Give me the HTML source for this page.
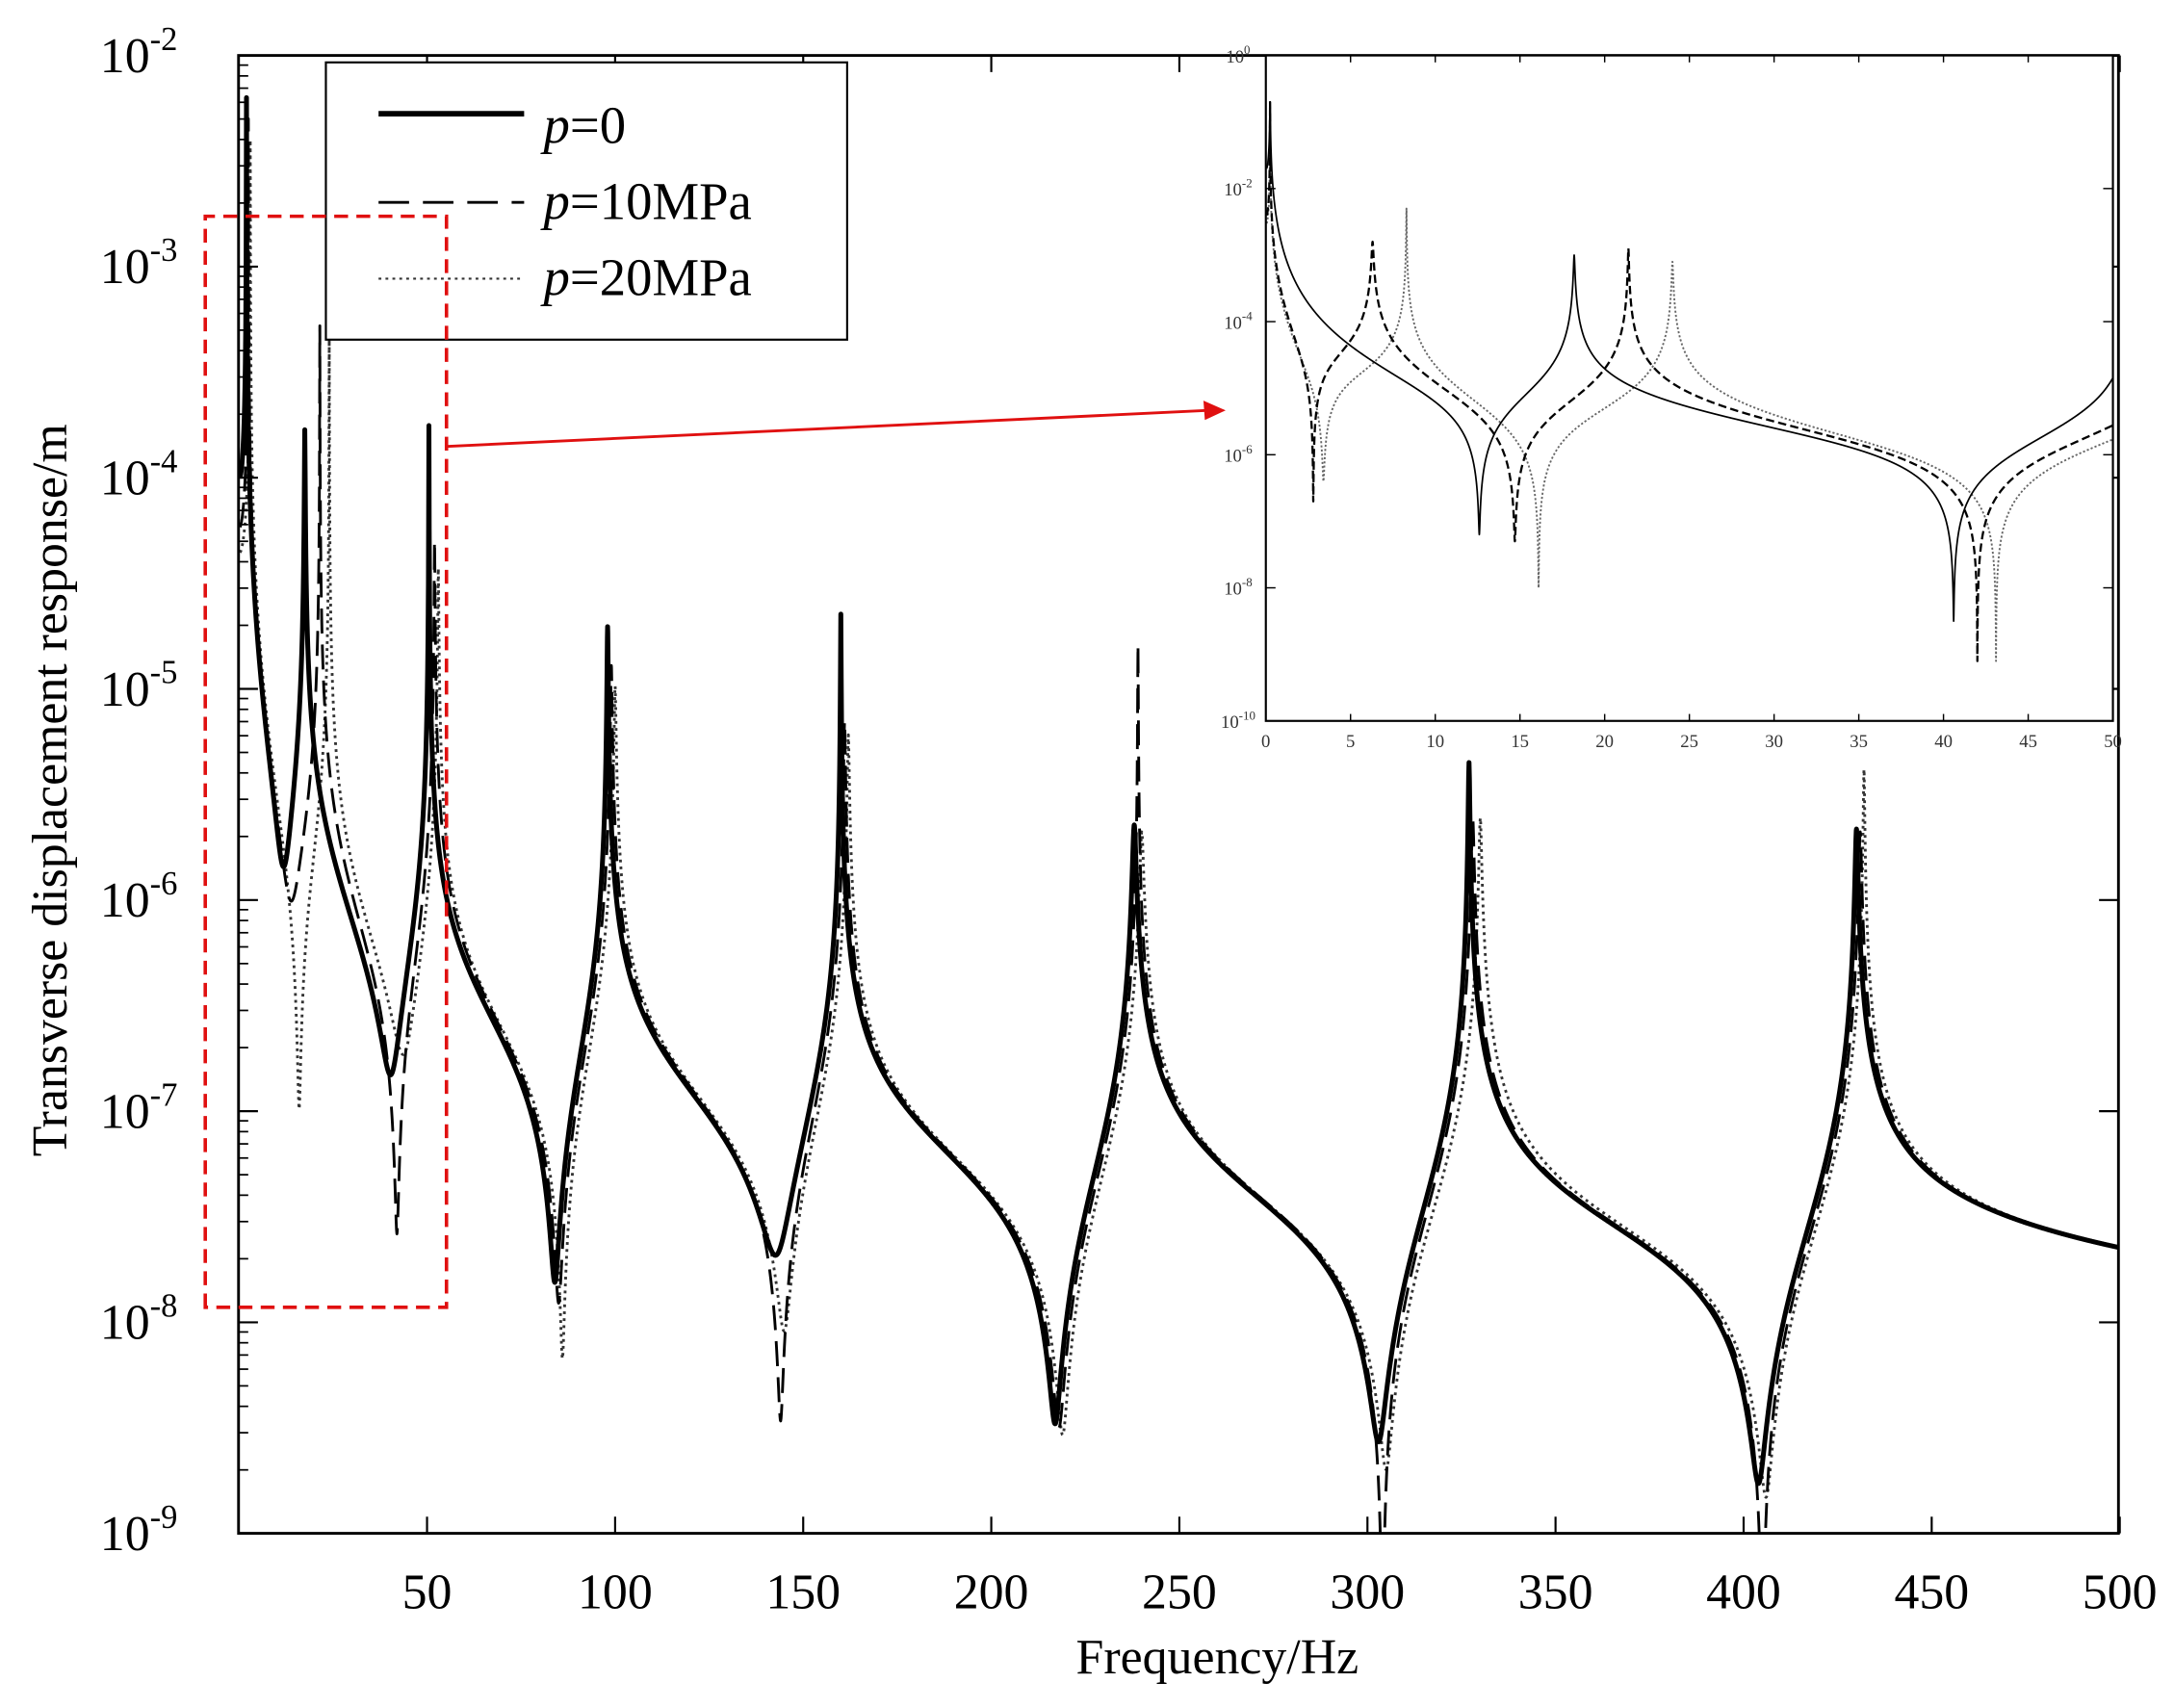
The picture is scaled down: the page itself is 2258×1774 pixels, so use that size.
<!DOCTYPE html>
<html><head><meta charset="utf-8">
<style>html,body{margin:0;padding:0;background:#fff}svg{display:block}</style>
</head><body>
<svg id="s" width="2258" height="1774" viewBox="0 0 1568 1232" xmlns="http://www.w3.org/2000/svg" font-family="'Liberation Serif',serif">
<defs>
<clipPath id="cm"><rect x="172" y="40" width="1356" height="1066"/></clipPath>
<clipPath id="ci"><rect x="913" y="40" width="611" height="480"/></clipPath>
</defs>
<rect width="1568" height="1232" fill="#fff"/>
<g id="main" clip-path="url(#cm)"></g>
<rect x="172" y="40" width="1356" height="1066" fill="none" stroke="#000" stroke-width="2"/>
<g id="axes"></g>
<!-- legend -->
<rect x="235" y="45" width="376" height="200" fill="#fff" stroke="#000" stroke-width="1.5"/>
<line x1="273" y1="82" x2="378" y2="82" stroke="#000" stroke-width="4"/>
<line x1="273" y1="146" x2="378" y2="146" stroke="#000" stroke-width="2" stroke-dasharray="22,10"/>
<line x1="273" y1="201" x2="378" y2="201" stroke="#333" stroke-width="1.5" stroke-dasharray="2,3"/>
<text x="392" y="103" font-size="38"><tspan font-style="italic">p</tspan>=0</text>
<text x="392" y="158" font-size="38"><tspan font-style="italic">p</tspan>=10MPa</text>
<text x="392" y="213" font-size="38"><tspan font-style="italic">p</tspan>=20MPa</text>
<!-- red box + arrow -->
<path d="M148 943 L148 156 L322 156 L322 943 Z" fill="none" stroke="#e01010" stroke-width="2.5" stroke-dasharray="10,6"/>
<line x1="322" y1="322" x2="872" y2="296" stroke="#e01010" stroke-width="2"/>
<polygon points="884,296 868,289 869,303" fill="#e01010"/>
<!-- inset -->
<rect x="913" y="40" width="611" height="480" fill="#fff"/>
<g id="inset" clip-path="url(#ci)"></g>
<rect x="913" y="40" width="611" height="480" fill="none" stroke="#000" stroke-width="1.5"/>
<g id="iaxes"></g>
<text x="878" y="1207" font-size="36" text-anchor="middle">Frequency/Hz</text>
<text transform="translate(48,570) rotate(-90)" font-size="36" text-anchor="middle">Transverse displacement response/m</text>
</svg>
<script>
const NS="http://www.w3.org/2000/svg";
function el(p,t,a,txt){const e=document.createElementNS(NS,t);for(const k in a)e.setAttribute(k,a[k]);if(txt!==undefined)e.textContent=txt;p.appendChild(e);return e;}
function build(poles,zeros,pt,zt,ref){
  const term=(f,a,e)=>0.5*Math.log10(Math.pow(f*f-a*a,2)+Math.pow(e*a*f,2)+1e-30);
  let ep=poles.map(()=>1e-9), ez=zeros.map(()=>1e-9);
  const raw=(f,skipP,skipZ)=>{let s=0;zeros.forEach((z,j)=>{if(j!==skipZ)s+=term(f,z,ez[j]);});poles.forEach((p,j)=>{if(j!==skipP)s-=term(f,p,ep[j]);});return s;};
  const logC=ref[1]-raw(ref[0],-1,-1);
  for(let it=0;it<3;it++){
    poles.forEach((p,k)=>{const o=logC+raw(p,k,-1);ep[k]=Math.pow(10,o-pt[k])/(p*p);});
    zeros.forEach((z,k)=>{const o=logC+raw(z,-1,k);ez[k]=Math.pow(10,zt[k]-o)/(z*z);});
  }
  return f=>logC+raw(f,-1,-1);
}
function draw(g,fn,f0,f1,extra,X,Y,style){
  let fs=[];const N=5000;for(let i=0;i<=N;i++)fs.push(f0+(f1-f0)*i/N);
  extra.forEach(v=>{if(v>f0&&v<f1)fs.push(v);});fs.sort((a,b)=>a-b);
  let d="";fs.forEach((f,i)=>{let y=Y(fn(f));y=Math.max(-50,Math.min(1300,y));d+=(i?"L":"M")+X(f).toFixed(2)+" "+y.toFixed(2);});
  const a=Object.assign({d:d,fill:"none","stroke-linejoin":"round"},style);el(g,"path",a);
}
// main chart
const mX=f=>172.3+f*2.7133, mY=l=>40+(-2-l)*152.3;
const yl=y=>-2-(y-40)/152.3;
const S0={poles:[2,17.5,50.5,98,160,238,327,430],zeros:[12,40.5,84,143,217,303,404],
 pt:[2.2,310,307,452,443,595,550,598],zt:[625,775,925,905,1027,1040,1070]};
const S1={poles:[2.5,21.5,52,99,161,239,328,431],zeros:[14,42,85,144,218,304,405],
 pt:[2.3,235,390,480,520,465,590,600],zt:[650,890,940,1025,1030,1200,1200]};
const S2={poles:[3,24,53,100,162,240,330,432],zeros:[16,44,86,145,219,305,406],
 pt:[2.4,245,410,495,530,600,590,555],zt:[800,760,980,960,1035,1060,1080]};
const mg=document.getElementById("main");
[[S2,{stroke:"#333","stroke-width":2,"stroke-dasharray":"2,3"}],[S1,{stroke:"#000","stroke-width":2,"stroke-dasharray":"18,8"}],[S0,{stroke:"#000","stroke-width":3.5}]].forEach(([S,st])=>{
  const pt=S.pt.map((v,i)=>i==0?-v:yl(v)), zt=S.zt.map(yl);
  const fn=build(S.poles,S.zeros,pt,zt,[500,yl(900)]);
  draw(mg,fn,0.3,500,S.poles.concat(S.zeros),mX,mY,st);
});
const ax=document.getElementById("axes");
for(let k=0;k<=7;k++){const y=40+k*152.3;
  el(ax,"line",{x1:172,y1:y,x2:186,y2:y,stroke:"#000","stroke-width":1.5});
  el(ax,"line",{x1:1528,y1:y,x2:1514,y2:y,stroke:"#000","stroke-width":1.5});
  const t=el(ax,"text",{x:100,y:y+12,"font-size":36,"text-anchor":"middle"});
  t.textContent="10";el(t,"tspan",{dy:-16,"font-size":24},"-"+(k+2));
  if(k<7)for(let m=2;m<=9;m++){const yy=y+152.3-152.3*Math.log10(m);
    el(ax,"line",{x1:172,y1:yy,x2:179,y2:yy,stroke:"#000","stroke-width":1.2});}
}
for(let v=50;v<=500;v+=50){const x=mX(v);
  el(ax,"line",{x1:x,y1:1106,x2:x,y2:1094,stroke:"#000","stroke-width":1.5});
  el(ax,"line",{x1:x,y1:40,x2:x,y2:52,stroke:"#000","stroke-width":1.5});
  el(ax,"text",{x:x,y:1160,"font-size":36,"text-anchor":"middle"},String(v));}
// inset
const iX=f=>913+f*12.22, iY=l=>40+(-l)*48;
const ig=document.getElementById("inset");
const I0={poles:[0.25,18.2,51],zeros:[12.6,40.6],pt:[-0.7,-3,-3.3],zt:[-7.2,-8.5],ref:[30,-5.6]};
const I1={poles:[0.25,6.3,21.4,55],zeros:[2.8,14.7,42],pt:[-0.7,-2.8,-2.9,-3],zt:[-6.7,-7.3,-9.1],ref:[30,-5.5]};
const I2={poles:[0.25,8.3,24,57],zeros:[3.4,16.1,43.1],pt:[-0.9,-2.3,-3.1,-3],zt:[-6.4,-8,-9.1],ref:[30,-5.4]};
[[I2,{stroke:"#666","stroke-width":1.3,"stroke-dasharray":"1.5,1.5"}],[I1,{stroke:"#000","stroke-width":1.6,"stroke-dasharray":"6,3"}],[I0,{stroke:"#000","stroke-width":1.2}]].forEach(([S,st])=>{
  const fn=build(S.poles,S.zeros,S.pt,S.zt,S.ref);
  draw(ig,fn,0.05,50,S.poles.concat(S.zeros),iX,iY,st);
});
const ia=document.getElementById("iaxes");
for(let k=0;k<=10;k+=2){const y=40+k*48;
  el(ia,"line",{x1:913,y1:y,x2:920,y2:y,stroke:"#000","stroke-width":1});
  el(ia,"line",{x1:1524,y1:y,x2:1517,y2:y,stroke:"#000","stroke-width":1});
  const t=el(ia,"text",{x:893,y:y+5,"font-size":13,"text-anchor":"middle",fill:"#333"});
  t.textContent="10";el(t,"tspan",{dy:-6,"font-size":9},k?"-"+k:"0");}
for(let v=0;v<=50;v+=5){const x=iX(v);
  el(ia,"line",{x1:x,y1:520,x2:x,y2:515,stroke:"#000","stroke-width":1});
  el(ia,"line",{x1:x,y1:40,x2:x,y2:45,stroke:"#000","stroke-width":1});
  el(ia,"text",{x:x,y:539,"font-size":13,"text-anchor":"middle",fill:"#333"},String(v));}
</script>
</body></html>
